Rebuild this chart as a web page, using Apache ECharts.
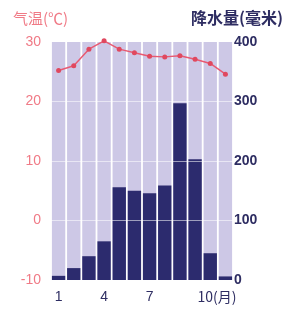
<!DOCTYPE html>
<html>
<head>
<meta charset="utf-8">
<script src="https://cdn.jsdelivr.net/npm/echarts@6/dist/echarts.min.js"></script>
<style>
html, body { margin: 0; padding: 0; background: #fff; }
#chart { width: 288px; height: 313px; }
</style>
</head>
<body>
<div id="chart"></div>
<script>
var months = ['1', '2', '3', '4', '5', '6', '7', '8', '9', '10', '11', '12'];
var temperature = [25.2, 26.0, 28.8, 30.2, 28.8, 28.2, 27.6, 27.5, 27.7, 27.1, 26.4, 24.6];
var rainfall = [7, 20, 40, 65, 156, 150, 146, 159, 297, 203, 45, 6];
var backdrop = [400, 400, 400, 400, 400, 400, 400, 400, 400, 400, 400, 400];

var myChart = echarts.init(document.getElementById('chart'));

var option = {
    animation: false,
    title: [
        {
            text: '气温(℃)',
            left: 8, top: 6,
            textStyle: { color: '#f07a86', fontSize: 15, fontWeight: 'normal', fontFamily: 'Noto Sans CJK SC' }
        },
        {
            text: '降水量(毫米)',
            right: 0, top: 5,
            textStyle: { color: '#2e2d62', fontSize: 16, fontWeight: 'bold', fontFamily: 'Noto Sans CJK SC' }
        }
    ],
    grid: { left: 51, right: 55, top: 42, bottom: 33 },
    xAxis: {
        type: 'category',
        data: months,
        axisLine: { show: false },
        axisTick: { show: false },
        axisLabel: {
            interval: 2,
            margin: 10,
            color: '#2e2d62',
            fontSize: 14,
            fontFamily: 'Liberation Sans',
            formatter: function (v) {
                if (v === '10') return '{m|10(月)}';
                return v;
            },
            rich: {
                m: { color: '#2e2d62', fontSize: 14, fontFamily: 'Noto Sans CJK SC', padding: [0, 0, 0, 44] }
            }
        }
    },
    yAxis: [
        {
            type: 'value',
            min: -10, max: 30, interval: 10,
            axisLine: { show: false },
            axisTick: { show: false },
            splitLine: { show: false },
            axisLabel: { color: '#f07a86', fontSize: 14, margin: 10, fontFamily: 'Liberation Sans' }
        },
        {
            type: 'value',
            min: 0, max: 400, interval: 100,
            axisLine: { show: false },
            axisTick: { show: false },
            splitLine: { show: false },
            axisLabel: { color: '#2e2d62', fontSize: 14, margin: 1, fontFamily: 'Liberation Sans', fontWeight: 'bold' }
        }
    ],
    series: [
        {
            name: 'bg',
            type: 'bar',
            yAxisIndex: 1,
            data: backdrop,
            barWidth: '88%',
            silent: true,
            itemStyle: { color: '#cdc8e6' },
            markLine: {
                silent: true,
                symbol: 'none',
                label: { show: false },
                lineStyle: { color: 'rgba(255,255,255,0.55)', type: 'solid', width: 1 },
                data: [{ yAxis: 100 }, { yAxis: 200 }, { yAxis: 300 }]
            }
        },
        {
            name: '降水量',
            type: 'bar',
            yAxisIndex: 1,
            data: rainfall,
            barWidth: '88%',
            barGap: '-100%',
            itemStyle: { color: '#2c2b6e' }
        },
        {
            name: '气温',
            type: 'line',
            yAxisIndex: 0,
            data: temperature,
            clip: false,
            symbol: 'circle',
            symbolSize: 5,
            lineStyle: { color: '#e85a72', width: 1.5 },
            itemStyle: { color: '#e0485f' },
            z: 5
        }
    ]
};

myChart.setOption(option);
</script>
</body>
</html>
